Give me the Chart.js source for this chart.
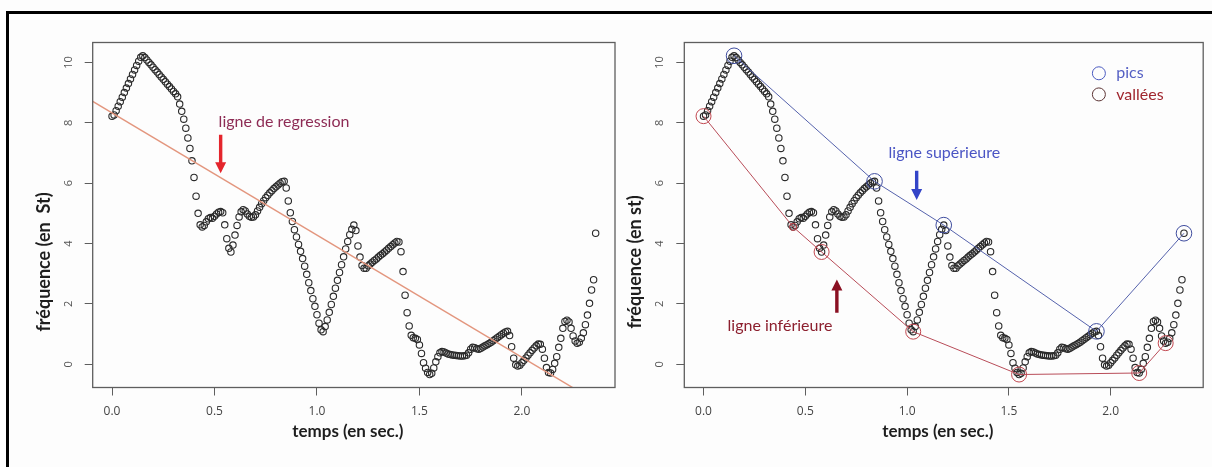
<!DOCTYPE html>
<html>
<head>
<meta charset="utf-8">
<script src="https://cdn.jsdelivr.net/npm/chart.js@4.4.1/dist/chart.umd.min.js"></script>
<style>
  html, body { margin: 0; padding: 0; background: #fdfdfd; }
  body { width: 1212px; height: 467px; position: relative; overflow: hidden; }
  #frame { position: absolute; left: 6px; top: 11px; right: -5px; bottom: -5px;
           border-top: 3px solid #000; border-left: 3px solid #000; }
  canvas { position: absolute; top: 0; }
  #left { left: 0; }
  #right { left: 600px; }
</style>
</head>
<body>
<div id="frame"></div>
<canvas id="left" width="640" height="467"></canvas>
<canvas id="right" width="612" height="467"></canvas>
<script>
// signal sampled every 10 ms, starting at t = 0
const startTime = 0;
const step = 0.01;
const freq = [
  8.22, 8.26, 8.4, 8.55, 8.7, 8.85, 9.0, 9.15, 9.3, 9.45,
  9.6, 9.75, 9.9, 10.04, 10.17, 10.22, 10.16, 10.08, 10.0, 9.92,
  9.84, 9.76, 9.68, 9.6, 9.52, 9.44, 9.36, 9.28, 9.2, 9.12,
  9.04, 8.96, 8.86, 8.62, 8.38, 8.12, 7.82, 7.5, 7.15, 6.74,
  6.19, 5.57, 5.0, 4.62, 4.55, 4.6, 4.72, 4.82, 4.86, 4.84,
  4.9, 4.98, 5.04, 5.06, 5.02, 4.62, 4.16, 3.84, 3.72, 3.95,
  4.28, 4.6, 4.88, 5.05, 5.12, 5.08, 4.98, 4.9, 4.87, 4.88,
  4.95, 5.08, 5.2, 5.32, 5.42, 5.52, 5.6, 5.68, 5.75, 5.82,
  5.88, 5.94, 6.0, 6.05, 6.06, 5.84, 5.41, 5.02, 4.73, 4.46,
  4.22, 3.97, 3.74, 3.5, 3.25, 2.98, 2.7, 2.44, 2.17, 1.92,
  1.64, 1.36, 1.14, 1.08, 1.25, 1.47, 1.72, 1.98, 2.25, 2.52,
  2.78, 3.04, 3.3, 3.56, 3.82, 4.07, 4.29, 4.47, 4.61, 4.43,
  3.92, 3.55, 3.27, 3.18, 3.18, 3.26, 3.32, 3.38, 3.44, 3.49,
  3.55, 3.61, 3.66, 3.72, 3.78, 3.84, 3.9, 3.96, 4.02, 4.07,
  4.05, 3.73, 3.07, 2.29, 1.71, 1.27, 0.96, 0.88, 0.86, 0.82,
  0.64, 0.36, 0.05, -0.13, -0.27, -0.34, -0.3, -0.12, 0.08, 0.25,
  0.38, 0.42, 0.41, 0.37, 0.34, 0.32, 0.31, 0.3, 0.29, 0.28,
  0.27, 0.27, 0.28, 0.3, 0.38, 0.5, 0.56, 0.55, 0.51, 0.5,
  0.53, 0.57, 0.61, 0.65, 0.69, 0.73, 0.78, 0.83, 0.88, 0.93,
  0.98, 1.03, 1.07, 1.09, 0.95, 0.58, 0.2, -0.02, -0.06, -0.03,
  0.05, 0.13, 0.21, 0.3, 0.38, 0.46, 0.54, 0.61, 0.67, 0.66,
  0.5, 0.2, -0.11, -0.27, -0.29, -0.17, 0.03, 0.25, 0.56, 0.86,
  1.19, 1.42, 1.46, 1.4, 1.19, 0.94, 0.77, 0.7, 0.73, 0.86,
  1.04, 1.31, 1.63, 2.02, 2.46, 2.8, 4.34
];

// regression line end points
const regT = [-0.0944, 2.25];
const regV = [8.71, -0.78];

// pics / vallées
const peakT = [0.15, 0.84, 1.18, 1.93, 2.36];
const peakV = [10.22, 6.06, 4.61, 1.09, 4.34];
const valleyT = [0.0, 0.44, 0.58, 1.03, 1.55, 2.14, 2.27];
const valleyV = [8.22, 4.55, 3.72, 1.08, -0.34, -0.29, 0.7];
const valleyRadius = [7.5, 3.6, 7.5, 7.5, 7.5, 7.5, 7.5];

// axes
const xTicks = [0, 0.5, 1.0, 1.5, 2.0];
const yTicks = [0, 2, 4, 6, 8, 10];
const xMin = -0.0944, xMax = 2.4544;
const yMin = -0.77, yMax = 10.66;

const signal = freq.map((v, i) => ({ x: +(startTime + i * step).toFixed(2), y: v }));
const toPts = (ts, vs) => ts.map((t, i) => ({ x: t, y: vs[i] }));

const LABEL_FONT = 'Lato, "Open Sans", sans-serif';

function drawArrow(ctx, x, y1, y2, color) {
  // y1 = tail, y2 = tip
  const dir = y2 > y1 ? 1 : -1;
  const headLen = 11, headW = 5.5, shaft = 1.7;
  const yb = y2 - dir * headLen;
  ctx.fillStyle = color;
  ctx.beginPath();
  ctx.moveTo(x - shaft, y1);
  ctx.lineTo(x + shaft, y1);
  ctx.lineTo(x + shaft, yb);
  ctx.lineTo(x + headW, yb);
  ctx.lineTo(x, y2);
  ctx.lineTo(x - headW, yb);
  ctx.lineTo(x - shaft, yb);
  ctx.closePath();
  ctx.fill();
}

function rPlotPlugin(opts) {
  return {
    id: 'rplot',
    afterDraw(chart) {
      const { ctx, chartArea: ca, scales } = chart;
      const sx = scales.x, sy = scales.y;
      ctx.save();
      // box
      ctx.strokeStyle = '#5e5e5e';
      ctx.lineWidth = 1.3;
      ctx.strokeRect(ca.left, ca.top, ca.right - ca.left, ca.bottom - ca.top);
      // y tick labels, parallel to the axis
      ctx.fillStyle = '#555';
      ctx.font = '11px "Open Sans", sans-serif';
      ctx.textAlign = 'center';
      ctx.textBaseline = 'middle';
      yTicks.forEach(v => {
        ctx.save();
        ctx.translate(ca.left - 24, sy.getPixelForValue(v));
        ctx.rotate(-Math.PI / 2);
        ctx.fillText(String(v), 0, 0);
        ctx.restore();
      });
      // axis titles
      ctx.fillStyle = '#1e1e1e';
      ctx.font = 'bold 17px ' + LABEL_FONT;
      ctx.fillText('temps (en sec.)', (ca.left + ca.right) / 2 - 6, 432);
      ctx.font = 'bold 18px ' + LABEL_FONT;
      ctx.save();
      ctx.translate(ca.left - 49, 262);
      ctx.rotate(-Math.PI / 2);
      ctx.fillText(opts.yTitle, 0, 0);
      ctx.restore();
      // annotations
      ctx.font = '16px ' + LABEL_FONT;
      ctx.textAlign = 'left';
      (opts.notes || []).forEach(n => {
        ctx.fillStyle = n.color;
        ctx.fillText(n.text, sx.getPixelForValue(n.t), sy.getPixelForValue(n.v));
      });
      (opts.arrows || []).forEach(a => {
        drawArrow(ctx, sx.getPixelForValue(a.t), sy.getPixelForValue(a.from),
                  sy.getPixelForValue(a.to), a.color);
      });
      (opts.legend || []).forEach(l => {
        const cx = sx.getPixelForValue(l.t), cy = sy.getPixelForValue(l.v);
        ctx.strokeStyle = l.mark;
        ctx.lineWidth = 1;
        ctx.beginPath();
        ctx.arc(cx, cy, 6.5, 0, Math.PI * 2);
        ctx.stroke();
        ctx.fillStyle = l.color;
        ctx.font = '16px ' + LABEL_FONT;
        ctx.fillText(l.text, sx.getPixelForValue(l.tt), cy);
      });
      ctx.restore();
    }
  };
}

function makeChart(id, boxLeft, boxRight, datasets, opts) {
  const canvas = document.getElementById(id);
  const boxTop = 42.5, boxBottom = 387.5;
  const gridOpts = { drawOnChartArea: false, drawTicks: true, tickLength: 8, color: '#5e5e5e', lineWidth: 1 };
  return new Chart(canvas, {
    type: 'scatter',
    data: { datasets },
    options: {
      responsive: false,
      animation: false,
      devicePixelRatio: 1,
      events: [],
      layout: { padding: { left: 0, top: boxTop, right: canvas.width - boxRight, bottom: 0 } },
      plugins: { legend: { display: false }, tooltip: { enabled: false } },
      scales: {
        x: {
          type: 'linear', min: xMin, max: xMax,
          afterBuildTicks: s => { s.ticks = xTicks.map(v => ({ value: v })); },
          afterFit: s => { s.height = canvas.height - boxBottom; },
          grid: gridOpts,
          border: { display: false },
          ticks: { padding: 9, color: '#444', font: { family: '"Open Sans", sans-serif', size: 12 },
                   maxRotation: 0, autoSkip: false, callback: v => Number(v).toFixed(1) }
        },
        y: {
          type: 'linear', min: yMin, max: yMax,
          afterBuildTicks: s => { s.ticks = yTicks.map(v => ({ value: v })); },
          afterFit: s => { s.width = boxLeft; },
          grid: gridOpts,
          border: { display: false },
          ticks: { display: false }
        }
      }
    },
    plugins: [rPlotPlugin(opts)]
  });
}

const signalSet = () => ({
  data: signal,
  showLine: false,
  pointRadius: 3.2,
  pointBorderWidth: 1.1,
  pointBorderColor: '#2b2b2b',
  pointBackgroundColor: 'rgba(0,0,0,0)',
  order: 2
});

// left panel: regression
makeChart('left', 92.7, 615, [
  signalSet(),
  {
    data: toPts(regT, regV),
    showLine: true,
    borderColor: '#e3967e',
    borderWidth: 1.5,
    pointRadius: 0,
    order: 1
  }
], {
  yTitle: 'fréquence (en  St)',
  notes: [{ text: 'ligne de regression', t: 0.52, v: 8.03, color: '#8e2c55' }],
  arrows: [{ t: 0.53, from: 7.6, to: 6.33, color: '#e4252c' }]
});

// right panel: peaks and valleys
makeChart('right', 84.3, 605.7, [
  signalSet(),
  {
    data: toPts(peakT, peakV),
    showLine: true,
    borderColor: '#5562ac',
    borderWidth: 1,
    pointRadius: 7.8,
    pointBorderWidth: 1,
    pointBorderColor: '#3e4c9e',
    pointBackgroundColor: 'rgba(0,0,0,0)',
    order: 1
  },
  {
    data: toPts(valleyT, valleyV),
    showLine: true,
    borderColor: '#b84c58',
    borderWidth: 1,
    pointRadius: valleyRadius,
    pointBorderWidth: 1,
    pointBorderColor: '#c0464e',
    pointBackgroundColor: 'rgba(0,0,0,0)',
    order: 1
  }
], {
  yTitle: 'fréquence (en st)',
  notes: [
    { text: 'ligne supérieure', t: 0.909, v: 7.02, color: '#4b55c4' },
    { text: 'ligne inférieure', t: 0.118, v: 1.27, color: '#8c1f2e' }
  ],
  arrows: [
    { t: 1.047, from: 6.41, to: 5.44, color: '#3344c8' },
    { t: 0.655, from: 1.71, to: 2.81, color: '#8a1022' }
  ],
  legend: [
    { text: 'pics', t: 1.942, tt: 2.027, v: 9.64, mark: '#4a5ac0', color: '#5560c4' },
    { text: 'vallées', t: 1.942, tt: 2.027, v: 8.94, mark: '#5c3434', color: '#a0262e' }
  ]
});
</script>
</body>
</html>
